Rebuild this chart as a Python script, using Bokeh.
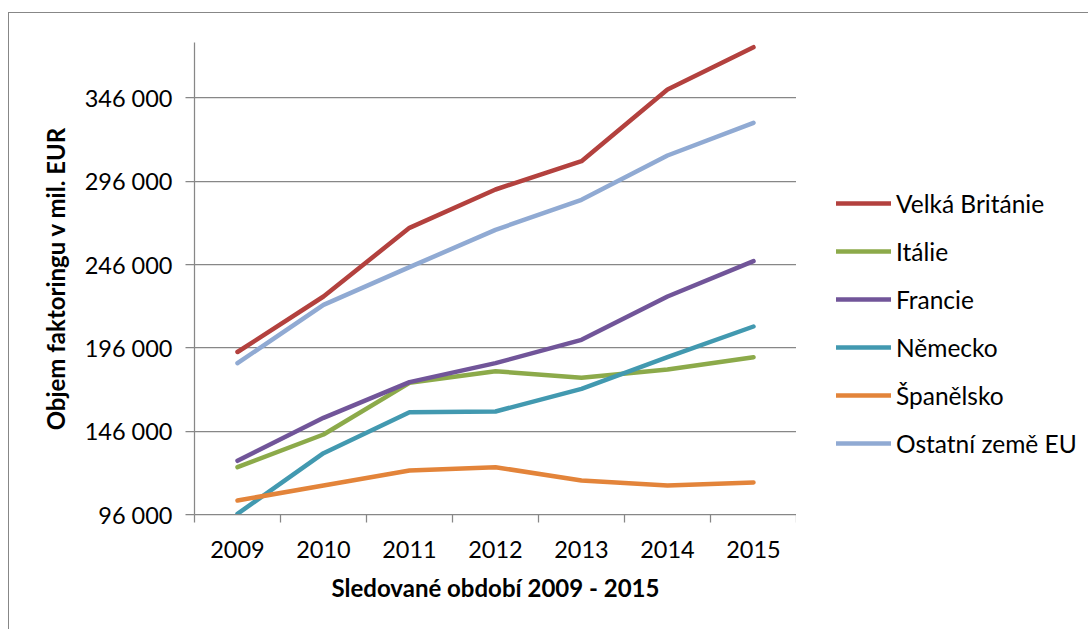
from bokeh.plotting import figure
from bokeh.models import Range1d, FixedTicker, Legend, LegendItem
from bokeh.layouts import row
from bokeh.embed import file_html
from bokeh.resources import INLINE

years = [2009, 2010, 2011, 2012, 2013, 2014, 2015]
velka_britanie = [193500, 226800, 268000, 291000, 308000, 351000, 376400]
italie = [124400, 144000, 175000, 182000, 178000, 183000, 190400]
francie = [128200, 154000, 175400, 186800, 200800, 226800, 248000]
nemecko = [96400, 132800, 157400, 157800, 171400, 190400, 208800]
spanelsko = [104400, 113400, 122400, 124400, 116400, 113400, 115200]
ostatni = [186800, 221800, 244400, 266800, 284800, 311400, 331000]

series_names = ["Velká Británie", "Itálie", "Francie", "Německo", "Španělsko", "Ostatní země EU"]
series_values = [velka_britanie, italie, francie, nemecko, spanelsko, ostatni]
series_colors = ["#B3413E", "#8CAA4A", "#715599", "#4299B0", "#E3843A", "#90AAD3"]

y_ticks = [96000, 146000, 196000, 246000, 296000, 346000]
y_tick_labels = ["96 000", "146 000", "196 000", "246 000", "296 000", "346 000"]
y_min, y_max = 96000, 379200

x_title = "Sledované období 2009 - 2015"
y_title = "Objem faktoringu v mil. EUR"

FONT = "Lato"
GRAY = "#878787"
H = 616

p = figure(width=787, height=H, output_backend="svg", toolbar_location=None,
           x_range=Range1d(years[0] - 0.5, years[-1] + 0.5),
           y_range=Range1d(y_min, y_max),
           min_border_left=185, min_border_right=0,
           min_border_top=29, min_border_bottom=H - 29 - 472)
p.outline_line_color = None
p.background_fill_color = "white"
p.border_fill_color = "white"

for name, vals, col in zip(series_names, series_values, series_colors):
    p.line(years, vals, line_width=4.5, line_color=col,
           line_cap="round", line_join="round")

# x axis: labels at category centres, tick marks at boundaries
bounds = [y - 0.5 for y in years] + [years[-1] + 0.5]
xt = FixedTicker(ticks=years, minor_ticks=bounds)
p.xaxis.ticker = xt
p.xaxis.major_tick_line_color = None
p.xaxis.major_tick_out = 8
p.xaxis.major_tick_in = 0
p.xaxis.minor_tick_out = 8
p.xaxis.minor_tick_in = 0
p.xaxis.minor_tick_line_color = GRAY
p.xaxis.minor_tick_line_width = 1.25
p.xaxis.axis_line_color = GRAY
p.xaxis.axis_line_width = 1.25
p.xaxis.major_label_text_font = FONT
p.xaxis.major_label_text_font_size = "23.5px"
p.xaxis.major_label_text_color = "black"
p.xaxis.major_label_standoff = 18
p.xaxis.axis_label = x_title
p.xaxis.axis_label_text_font = FONT
p.xaxis.axis_label_text_font_style = "bold"
p.xaxis.axis_label_text_font_size = "24px"
p.xaxis.axis_label_text_color = "black"
p.xaxis.axis_label_standoff = 12

yt = FixedTicker(ticks=y_ticks)
p.yaxis.ticker = yt
p.yaxis.major_label_overrides = {t: l for t, l in zip(y_ticks, y_tick_labels)}
p.yaxis.minor_tick_line_color = None
p.yaxis.major_tick_out = 9
p.yaxis.major_tick_in = 0
p.yaxis.major_tick_line_color = GRAY
p.yaxis.major_tick_line_width = 1.25
p.yaxis.axis_line_color = GRAY
p.yaxis.axis_line_width = 1.25
p.yaxis.major_label_text_font = FONT
p.yaxis.major_label_text_font_size = "23.5px"
p.yaxis.major_label_text_color = "black"
p.yaxis.major_label_standoff = 13
p.yaxis.axis_label = y_title
p.yaxis.axis_label_text_font = FONT
p.yaxis.axis_label_text_font_style = "bold"
p.yaxis.axis_label_text_font_size = "24px"
p.yaxis.axis_label_text_color = "black"
p.yaxis.axis_label_standoff = 12

p.xgrid.grid_line_color = None
p.ygrid.ticker = yt
p.ygrid.grid_line_color = GRAY
p.ygrid.grid_line_width = 1.25

# legend panel (separate canvas to the right of the plot area)
p2 = figure(width=292, height=H, output_backend="svg", toolbar_location=None,
            x_range=Range1d(0, 1), y_range=Range1d(0, 1), min_border=0)
p2.outline_line_color = None
p2.axis.visible = False
p2.grid.grid_line_color = None
p2.background_fill_color = "white"
p2.border_fill_color = "white"
nan = float("nan")
items = []
for name, col in zip(series_names, series_colors):
    r = p2.line(x=[nan], y=[nan], line_width=4.5, line_color=col, line_cap="round")
    items.append(LegendItem(label=name, renderers=[r]))

legend = Legend(items=items, location=(40, 56))
legend.border_line_color = None
legend.background_fill_alpha = 0
legend.label_text_font = FONT
legend.label_text_font_size = "24.5px"
legend.label_text_color = "black"
legend.glyph_width = 55
legend.glyph_height = 30
legend.label_height = 30
legend.label_standoff = 5
legend.spacing = 18
legend.padding = 0
legend.margin = 0
p2.add_layout(legend, "center")

layout = row(p, p2, spacing=0)
layout.margin = (12, 0, 0, 8)
layout.styles = {"border-left": "1.5px solid #878787", "border-top": "1.5px solid #878787",
                 "border-right": "0px none", "border-bottom": "0px none",
                 "outline": "none", "box-shadow": "none"}

html = file_html(layout, INLINE)
html = html.replace(
    "</head>",
    "<style>html, body { margin: 0; overflow: hidden; scrollbar-width: none; }"
    " ::-webkit-scrollbar { display: none; }</style></head>", 1)
open("out.html", "w").write(html)
